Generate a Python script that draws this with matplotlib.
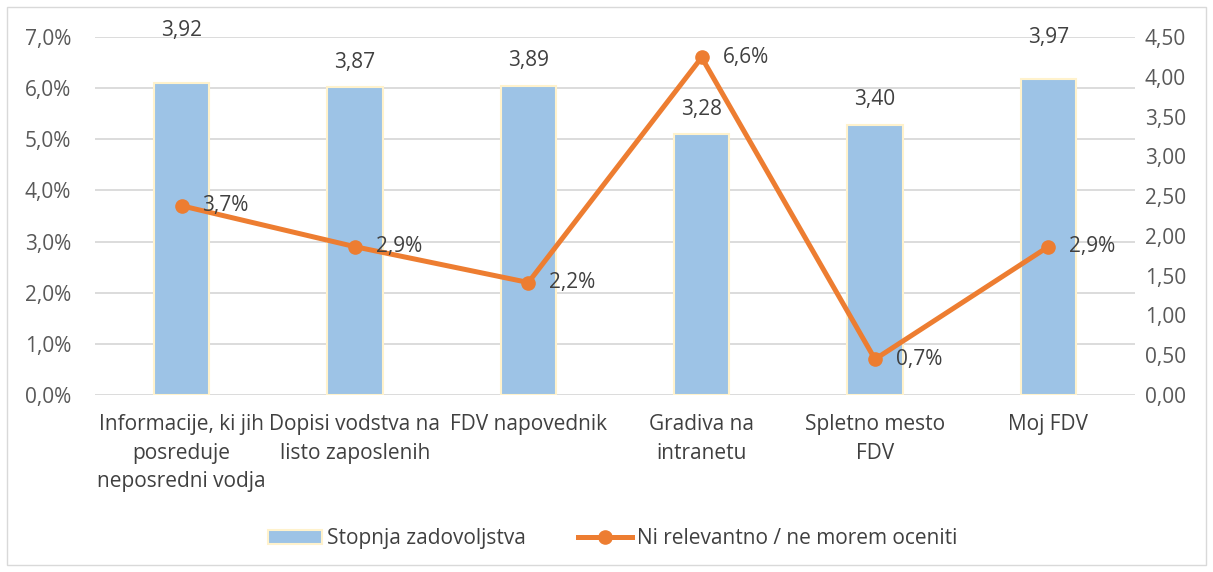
import matplotlib
matplotlib.use('Agg')
import matplotlib.pyplot as plt
import numpy as np
from matplotlib.ticker import FuncFormatter, MultipleLocator
from matplotlib.patches import Rectangle

plt.rcParams['font.family'] = ['Open Sans', 'DejaVu Sans']

CATEGORIES = [
    'Informacije, ki jih\nposreduje\nneposredni vodja',
    'Dopisi vodstva na\nlisto zaposlenih',
    'FDV napovednik',
    'Gradiva na\nintranetu',
    'Spletno mesto\nFDV',
    'Moj FDV',
]
SATISFACTION = [3.92, 3.87, 3.89, 3.28, 3.40, 3.97]      # right axis
NOT_RELEVANT = [3.7, 2.9, 2.2, 6.6, 0.7, 2.9]            # left axis, percent

BAR_LABEL = 'Stopnja zadovoljstva'
LINE_LABEL = 'Ni relevantno / ne morem oceniti'

# vertical offset (points) of each bar value label above its bar top
BAR_LABEL_DY = [38, 18, 18, 18, 18, 30]

BAR_COLOR = '#9DC3E6'
BAR_EDGE = '#FFF2CC'
LINE_COLOR = '#ED7D31'
TEXT = '#404040'
TICK = '#595959'
GRID = '#D9D9D9'
FS = 15


def comma(v, fmt):
    return format(v, fmt).replace('.', ',')


def main():
    fig = plt.figure(figsize=(12.13, 5.72), dpi=100)
    ax = fig.add_axes([0.0783, 0.3094, 0.8574, 0.6259])
    ax2 = ax.twinx()

    x = np.arange(len(CATEGORIES))

    # left axis: percent line; right axis: bars. Bars drawn behind the line.
    ax.set_zorder(ax2.get_zorder() + 1)
    ax.patch.set_visible(False)

    ax2.set_ylim(0, 4.5)
    for yv in range(0, 8):
        ax2.axhline(yv * 4.5 / 7, color=GRID, linewidth=1.3, zorder=0)

    bars = ax2.bar(x, SATISFACTION, width=0.32, color=BAR_COLOR,
                   edgecolor=BAR_EDGE, linewidth=1.5, label=BAR_LABEL, zorder=2)
    for xi, v, dy in zip(x, SATISFACTION, BAR_LABEL_DY):
        ax2.annotate(comma(v, '.2f'), (xi, v), xytext=(0, dy),
                     textcoords='offset points', ha='center', va='center',
                     fontsize=FS, color=TEXT)

    line, = ax.plot(x, NOT_RELEVANT, color=LINE_COLOR, linewidth=3.6,
                    marker='o', markersize=9.5, label=LINE_LABEL, zorder=5)
    for xi, v in zip(x, NOT_RELEVANT):
        ax.annotate(comma(v, '.1f') + '%', (xi, v), xytext=(15, 0),
                    textcoords='offset points', ha='left', va='center',
                    fontsize=FS, color=TEXT, zorder=6)

    ax.set_xlim(-0.5, len(CATEGORIES) - 0.5)
    ax.set_ylim(0, 7)
    ax.yaxis.set_major_locator(MultipleLocator(1))
    ax.yaxis.set_major_formatter(FuncFormatter(lambda v, p: comma(v, '.1f') + '%'))
    ax2.yaxis.set_major_locator(MultipleLocator(0.5))
    ax2.yaxis.set_major_formatter(FuncFormatter(lambda v, p: comma(v, '.2f')))

    ax.set_xticks(x)
    ax.set_xticklabels(CATEGORIES, fontsize=FS, color=TEXT, linespacing=1.45, va='top')
    ax.tick_params(axis='x', length=0, pad=14)
    ax.tick_params(axis='y', length=0, pad=17, labelsize=FS, labelcolor=TICK)
    ax2.tick_params(axis='y', length=0, pad=7, labelsize=FS, labelcolor=TICK)

    for a in (ax, ax2):
        for s in a.spines.values():
            s.set_visible(False)

    fig.legend([bars, line], [BAR_LABEL, LINE_LABEL], loc='center',
               bbox_to_anchor=(0.505, 0.058), ncol=2, frameon=False,
               fontsize=FS, labelcolor=TEXT, handlelength=2.6,
               handletextpad=0.25, columnspacing=2.5)

    fig.patches.append(Rectangle((0.006, 0.012), 0.988, 0.976,
                                 transform=fig.transFigure, fill=False,
                                 edgecolor='#D9D9D9', linewidth=1.0))

    fig.savefig('out.png', dpi=100)


if __name__ == '__main__':
    main()
